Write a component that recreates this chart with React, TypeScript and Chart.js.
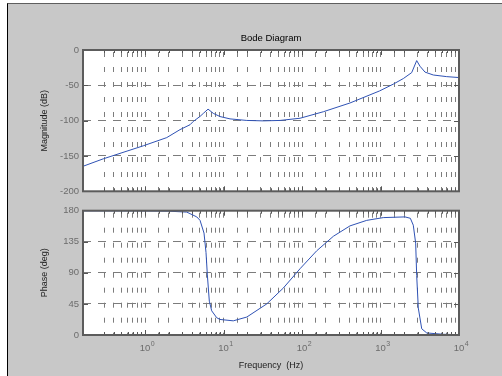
import React, { useEffect, useRef } from 'react';
import { Chart, registerables } from 'chart.js';

Chart.register(...registerables);

// ---- data ----
const FREQ_MIN = 0.162;
const FREQ_MAX = 10000;

const magFreq = [0.162, 0.294, 0.95, 1.89, 2.79, 3.74, 4.12, 5.02, 5.53, 6.35, 7.41, 9.02, 12.1, 19.8, 32.1, 52.5, 94.4, 187, 408, 970, 1456, 1954, 2497, 2891, 3186, 3690, 4710, 6970, 10000];
const magDb = [-164.6, -154, -135.6, -124, -112.7, -105.8, -101.1, -94, -89.7, -83.7, -89.7, -94.2, -97.5, -99.7, -100.3, -99.7, -96.6, -87.4, -75, -58, -48.3, -40.4, -32, -15, -23, -31.3, -35.4, -37.7, -39];

const phaseFreq = [0.162, 1, 2, 3.4, 4.56, 5.02, 5.64, 5.98, 6.22, 6.59, 7.07, 8.19, 9.02, 13.3, 19.8, 35.5, 57.8, 94.4, 154, 251, 408, 667, 1086, 2051, 2400, 2616, 2805, 2891, 3030, 3350, 3879, 6310, 10000];
const phaseDeg = [179.8, 179.7, 179.3, 178, 171, 166, 147.6, 119.6, 87, 49, 35, 25, 22.5, 20.5, 26, 45, 68, 96, 122, 143, 158, 166, 170, 171, 169, 159, 133, 86, 39, 9, 3, 1, 0.5];

const magRange = [-200, 0];
const magStep = 50;
const phaseRange = [0, 180];
const phaseStep = 45;

const TITLE = 'Bode Diagram';
const MAG_LABEL = 'Magnitude (dB)';
const PHASE_LABEL = 'Phase (deg)';
const FREQ_LABEL = 'Frequency  (Hz)';
const DECADE_BASE = '10';

// ---- styling ----
const FONT = '"Liberation Sans", Arial, Helvetica, sans-serif';
const LINE_COLOR = '#2f52b4';
const GRID_COLOR = '#7c7c7c';
const TICK_TEXT = '#6c6c6c';
const LABEL_TEXT = '#222222';
const FRAME_COLOR = '#5c5c5c';

const isDecade = (v: number) => {
  const l = Math.log10(v);
  return Math.abs(l - Math.round(l)) < 1e-6;
};

const framePlugin = {
  id: 'bodeFrame',
  beforeDraw(chart: any) {
    const { ctx, chartArea: a } = chart;
    ctx.save();
    ctx.fillStyle = '#ffffff';
    ctx.fillRect(a.left, a.top, a.right - a.left, a.bottom - a.top);
    ctx.restore();
  },
  afterDraw(chart: any) {
    const { ctx, chartArea: a, scales } = chart;
    ctx.save();
    ctx.strokeStyle = '#555555';
    ctx.lineWidth = 1;
    ctx.setLineDash([]);
    ctx.beginPath();
    scales.x.ticks.forEach((t: any) => {
      const px = Math.round(scales.x.getPixelForValue(t.value)) + 0.5;
      if (px <= a.left + 1 || px >= a.right - 1) return;
      const len = isDecade(t.value) ? 5 : 3;
      ctx.moveTo(px, a.top);
      ctx.lineTo(px, a.top + len);
      ctx.moveTo(px, a.bottom);
      ctx.lineTo(px, a.bottom - len);
    });
    scales.y.ticks.forEach((t: any) => {
      const py = Math.round(scales.y.getPixelForValue(t.value)) + 0.5;
      if (py <= a.top + 1 || py >= a.bottom - 1) return;
      ctx.moveTo(a.left, py);
      ctx.lineTo(a.left + 5, py);
      ctx.moveTo(a.right, py);
      ctx.lineTo(a.right - 5, py);
    });
    ctx.stroke();
    ctx.lineWidth = 2;
    ctx.strokeStyle = FRAME_COLOR;
    ctx.strokeRect(a.left, a.top, a.right - a.left, a.bottom - a.top);
    ctx.restore();
  },
};

const exponentPlugin = {
  id: 'decadeExponent',
  afterDraw(chart: any) {
    const { ctx, chartArea: a, scales } = chart;
    ctx.save();
    ctx.font = `9.5px ${FONT}`;
    const w = ctx.measureText(DECADE_BASE).width;
    ctx.font = `7px ${FONT}`;
    ctx.fillStyle = TICK_TEXT;
    ctx.textAlign = 'left';
    ctx.textBaseline = 'alphabetic';
    const labelCenter = a.bottom + 8 + 5.7;
    scales.x.ticks.forEach((t: any) => {
      if (!isDecade(t.value)) return;
      const px = scales.x.getPixelForValue(t.value);
      const e = String(Math.round(Math.log10(t.value)));
      ctx.fillText(e, px + w / 2 + 0.5, labelCenter - 3);
    });
    ctx.restore();
  },
};

function xScale(showLabels: boolean, height: number) {
  return {
    type: 'logarithmic',
    min: FREQ_MIN,
    max: FREQ_MAX,
    afterFit: (s: any) => {
      s.height = height;
    },
    grid: { color: GRID_COLOR, lineWidth: 1, drawTicks: false },
    border: { display: false, dash: [5, 10], dashOffset: -2 },
    ticks: {
      display: showLabels,
      autoSkip: false,
      maxRotation: 0,
      padding: 8,
      color: TICK_TEXT,
      font: { family: FONT, size: 9.5 },
      callback: (v: any) => (isDecade(Number(v)) ? DECADE_BASE : ''),
    },
    title: {
      display: showLabels,
      text: FREQ_LABEL,
      color: LABEL_TEXT,
      font: { family: FONT, size: 9 },
      padding: { top: 4, bottom: 5 },
    },
  };
}

function yScale(range: number[], step: number, label: string) {
  return {
    type: 'linear',
    min: range[0],
    max: range[1],
    afterFit: (s: any) => {
      s.width = 48;
    },
    grid: { color: GRID_COLOR, lineWidth: 1, drawTicks: false },
    border: { display: false, dash: [8, 7] },
    ticks: {
      stepSize: step,
      padding: 4,
      color: TICK_TEXT,
      font: { family: FONT, size: 9.5 },
      callback: (v: any) => String(v),
    },
    title: {
      display: true,
      text: label,
      color: LABEL_TEXT,
      font: { family: FONT, size: 9 },
      padding: { top: 4, bottom: 4 },
    },
  };
}

function points(xs: number[], ys: number[]) {
  return xs.map((x, i) => ({ x, y: ys[i] }));
}

export default function App() {
  const topRef = useRef<HTMLCanvasElement>(null);
  const botRef = useRef<HTMLCanvasElement>(null);

  useEffect(() => {
    const top = new Chart(topRef.current as HTMLCanvasElement, {
      type: 'line',
      data: {
        datasets: [
          {
            data: points(magFreq, magDb),
            borderColor: LINE_COLOR,
            borderWidth: 1,
            pointRadius: 0,
            tension: 0,
            fill: false,
          },
        ],
      },
      options: {
        responsive: false,
        animation: false,
        events: [],
        layout: { padding: { left: 35, right: 43, top: 0, bottom: 6 } },
        plugins: {
          legend: { display: false },
          tooltip: { enabled: false },
          title: {
            display: true,
            text: TITLE,
            color: '#000000',
            fullSize: false,
            font: { family: FONT, size: 9.5, weight: 'normal', lineHeight: 1.2 },
            padding: { top: 33, bottom: 5.6 },
          },
        },
        scales: {
          x: xScale(false, 0),
          y: yScale(magRange, magStep, MAG_LABEL),
        },
      } as any,
      plugins: [framePlugin],
    });

    const bot = new Chart(botRef.current as HTMLCanvasElement, {
      type: 'line',
      data: {
        datasets: [
          {
            data: points(phaseFreq, phaseDeg),
            borderColor: LINE_COLOR,
            borderWidth: 1,
            pointRadius: 0,
            tension: 0,
            fill: false,
          },
        ],
      },
      options: {
        responsive: false,
        animation: false,
        events: [],
        layout: { padding: { left: 35, right: 43, top: 6, bottom: 0 } },
        plugins: {
          legend: { display: false },
          tooltip: { enabled: false },
        },
        scales: {
          x: xScale(true, 41),
          y: yScale(phaseRange, phaseStep, PHASE_LABEL),
        },
      } as any,
      plugins: [framePlugin, exponentPlugin],
    });

    return () => {
      top.destroy();
      bot.destroy();
    };
  }, []);

  return (
    <div style={{ position: 'absolute', left: 0, top: 0, width: 502, height: 376, overflow: 'hidden' }}>
      <div
        style={{
          position: 'absolute',
          left: 7,
          top: 3,
          width: 495,
          height: 373,
          boxSizing: 'border-box',
          background: '#c8c8c8',
          borderLeft: '1px solid #000000',
          borderTop: '1px solid #5e5e5e',
        }}
      />
      <canvas
        ref={topRef}
        width={502}
        height={201}
        style={{ position: 'absolute', left: 0, top: 0, width: 502, height: 201 }}
      />
      <canvas
        ref={botRef}
        width={502}
        height={175}
        style={{ position: 'absolute', left: 0, top: 201, width: 502, height: 175 }}
      />
    </div>
  );
}
